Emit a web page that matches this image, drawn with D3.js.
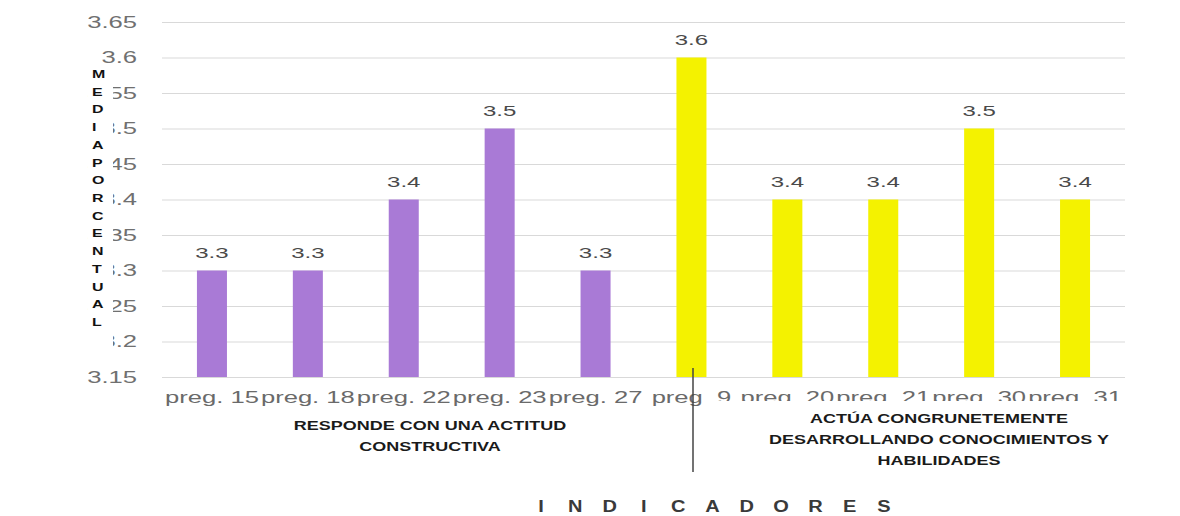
<!DOCTYPE html>
<html><head><meta charset="utf-8">
<script src="https://cdn.jsdelivr.net/npm/d3@7"></script>
<style>html,body{margin:0;padding:0;background:#fff;}svg{display:block;}</style>
</head><body>
<svg id="c" width="1180" height="516"></svg>
<script>
const categories = ["preg. 15","preg. 18","preg. 22","preg. 23","preg. 27","preg. 9","preg. 20","preg. 21","preg. 30","preg. 31"];
const values = [3.3,3.3,3.4,3.5,3.3,3.6,3.4,3.4,3.5,3.4];
const groups = ["A","A","A","A","A","B","B","B","B","B"];
const yTicks = [3.15,3.2,3.25,3.3,3.35,3.4,3.45,3.5,3.55,3.6,3.65];
const yTickLabels = ["3.15","3.2","3.25","3.3","3.35","3.4","3.45","3.5","3.55","3.6","3.65"];
const yTitle = "MEDIAPORCENTUAL";
const xTitle = "INDICADORES";
const groupLabelA = ["RESPONDE CON UNA ACTITUD","CONSTRUCTIVA"];
const groupLabelB = ["ACTÚA CONGRUNETEMENTE","DESARROLLANDO CONOCIMIENTOS Y","HABILIDADES"];

const SX = 1.6;
const FONT = "'Liberation Sans', Arial, sans-serif";
const svg = d3.select("#c");
const colors = {A:"#A97AD6", B:"#F4F200"};

const x = d3.scaleBand().domain(categories).range([164,1123]).padding(0);
const y = d3.scaleLinear().domain([3.15,3.65]).range([377,22]);
const barW = x.bandwidth()*0.313;

// grid + y labels
const yAxis = d3.axisLeft(y).tickValues(yTicks)
  .tickFormat((d,i)=>yTickLabels[i]).tickSize(-963).tickPadding(15.6);
const gy = svg.append("g").attr("transform","translate(162,0)").call(yAxis);
gy.select(".domain").remove();
gy.selectAll(".tick line").attr("stroke","#d9d9d9").attr("stroke-width",1);
gy.selectAll(".tick text").attr("font-family",FONT).attr("font-size",16)
  .attr("fill","#707070").attr("transform",`scale(${SX},1)`);

// x labels
const xAxis = d3.axisBottom(x).tickSize(0).tickPadding(15);
const gx = svg.append("g").attr("transform","translate(0,377)").call(xAxis);
gx.select(".domain").remove();
gx.selectAll(".tick text").attr("font-family",FONT).attr("font-size",16)
  .attr("fill","#6a6a6a").attr("transform",`scale(${SX},1)`);

// bars
svg.append("g").selectAll("rect").data(values).join("rect")
  .attr("x",(d,i)=>x(categories[i])+(x.bandwidth()-barW)/2)
  .attr("y",d=>y(d)).attr("width",barW).attr("height",d=>y(3.15)-y(d))
  .attr("fill",(d,i)=>colors[groups[i]]);

// value labels
svg.append("g").selectAll("text").data(values).join("text")
  .attr("transform",(d,i)=>`translate(${x(categories[i])+x.bandwidth()/2},${y(d)-13}) scale(${SX},1)`)
  .attr("text-anchor","middle").attr("font-family",FONT).attr("font-size",15)
  .attr("fill","#4a4a4a").text(d=>d.toFixed(1));

// white cover + vertical y title
svg.append("rect").attr("x",88).attr("y",63).attr("width",25).attr("height",286).attr("fill","#fff");
const ly = d3.scalePoint().domain(d3.range(yTitle.length)).range([78,326]);
svg.append("g").selectAll("text").data(yTitle.split("")).join("text")
  .attr("transform",(d,i)=>`translate(92,${ly(i)}) scale(1.45,1)`)
  .attr("font-family",FONT).attr("font-size",11).attr("font-weight","bold")
  .attr("fill","#111").text(d=>d);

// white cover for right group
svg.append("rect").attr("x",703).attr("y",401).attr("width",440).attr("height",75).attr("fill","#fff");

// group labels
function groupText(lines, cx, y0, dy){
  svg.append("g").selectAll("text").data(lines).join("text")
    .attr("transform",(d,i)=>`translate(${cx},${y0+i*dy}) scale(1.5,1)`)
    .attr("text-anchor","middle").attr("font-family",FONT).attr("font-size",12)
    .attr("font-weight","bold").attr("fill","#1a1a1a").text(d=>d);
}
groupText(groupLabelA, 430, 430, 21);
groupText(groupLabelB, 939, 423, 21);

// separator line
svg.append("line").attr("x1",693).attr("x2",693).attr("y1",368).attr("y2",472)
  .attr("stroke","#444").attr("stroke-width",1.5);

// x title
const lx = d3.scalePoint().domain(d3.range(xTitle.length)).range([541,884]);
svg.append("g").selectAll("text").data(xTitle.split("")).join("text")
  .attr("transform",(d,i)=>`translate(${lx(i)},512) scale(1.25,1)`)
  .attr("text-anchor","middle").attr("font-family",FONT).attr("font-size",16)
  .attr("font-weight","bold").attr("fill","#3a3a3a").text(d=>d);
</script>
</body></html>
